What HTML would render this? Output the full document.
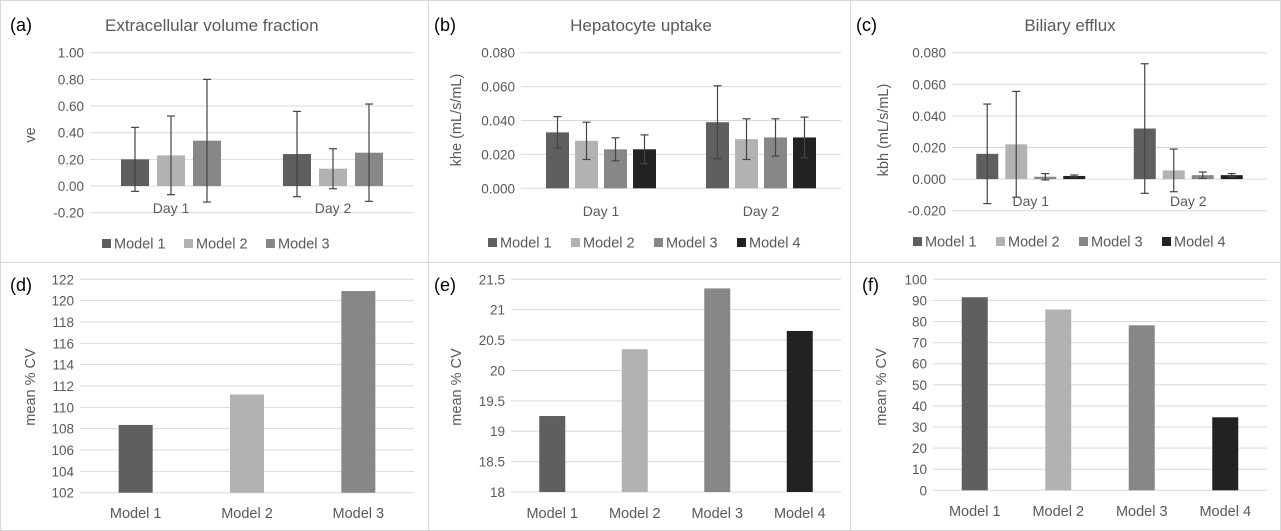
<!DOCTYPE html>
<html><head><meta charset="utf-8"><style>
html,body{margin:0;padding:0;background:#fff;}
svg{display:block;font-family:"Liberation Sans",sans-serif;}
</style></head><body>
<svg id="fig" width="1281" height="531" viewBox="0 0 1281 531" xmlns="http://www.w3.org/2000/svg"></svg>
<script>
const NS="http://www.w3.org/2000/svg";
const colors=["#5f5f5f","#b2b2b2","#878787","#222222"];
const modelNames=["Model 1","Model 2","Model 3","Model 4"];
const dayCats=["Day 1","Day 2"];
// (a)
const aTicks=[-0.2,0,0.2,0.4,0.6,0.8,1.0];
const aM1=[0.20,0.24],aM2=[0.23,0.13],aM3=[0.34,0.25];
const aE1=[0.24,0.32],aE2=[0.295,0.15],aE3=[0.46,0.365];
// (b)
const bTicks=[0,0.02,0.04,0.06,0.08];
const bM1=[0.033,0.039],bM2=[0.028,0.029],bM3=[0.023,0.030],bM4=[0.023,0.030];
const bE1=[0.0093,0.0215],bE2=[0.011,0.012],bE3=[0.0068,0.011],bE4=[0.0085,0.012];
// (c)
const cTicks=[-0.02,0,0.02,0.04,0.06,0.08];
const cM1=[0.016,0.032],cM2=[0.022,0.0055],cM3=[0.0015,0.0025],cM4=[0.002,0.0025];
const cE1=[0.0315,0.041],cE2=[0.0335,0.0135],cE3=[0.002,0.002],cE4=[0.0006,0.001];
// (d),(e),(f)
const dTicks=[102,104,106,108,110,112,114,116,118,120,122];
const dVals=[108.35,111.2,120.9];
const eTicks=[18,18.5,19,19.5,20,20.5,21,21.5];
const eVals=[19.25,20.35,21.35,20.65];
const fTicks=[0,10,20,30,40,50,60,70,80,90,100];
const fVals=[91.5,85.7,78.2,34.6];

const svg=document.getElementById('fig');
function mk(tag,attrs,parent,text){const e=document.createElementNS(NS,tag);for(const k in attrs)e.setAttribute(k,attrs[k]);if(text!==undefined)e.textContent=text;(parent||svg).appendChild(e);return e;}

function panel(id,x,y,w,h){
  const g=mk('g',{});
  
  
  const r=mk('rect',{x:x+0.5,y:y+0.5,width:w-1,height:h-1,fill:'#fff',stroke:'#d9d9d9'},g);
  
  
  return g;
}
function txt(g,x,y,s,opt,name){
  const t=mk('text',Object.assign({x:x,y:y,fill:'#595959','font-size':12},opt||{}),g,s);
  
  
  return t;
}
function axis(g,ticks,fmt,x0,x1,yTop,yBot){
  const lo=ticks[0],hi=ticks[ticks.length-1];
  const sy=v=>yBot-(v-lo)/(hi-lo)*(yBot-yTop);
  ticks.forEach(t=>{
    const l=mk('line',{x1:x0,x2:x1,y1:sy(t),y2:sy(t),stroke:'#d9d9d9','stroke-width':1},g);
    
    
    txt(g,x0-6,sy(t)+5,fmt(t),{'text-anchor':'end','font-size':13.5},'y-tick-label');
  });
  return sy;
}
function yTitle(g,x,y,s){
  txt(g,x,y,s,{'text-anchor':'middle','font-size':14.5,transform:`rotate(-90 ${x} ${y})`},'y-axis-title');
}
function grouped(g,series,errs,sy,x0,x1,bw,gap,catLabelY){
  const n=series.length,cw=(x1-x0)/dayCats.length;
  const total=n*bw+(n-1)*gap;
  dayCats.forEach((c,i)=>{
    const cx=x0+cw*(i+0.5);
    series.forEach((s,k)=>{
      const bx=cx-total/2+k*(bw+gap);
      const v=s[i],y0=sy(0),yv=sy(v);
      const b=mk('rect',{x:bx,y:Math.min(y0,yv),width:bw,height:Math.max(1,Math.abs(y0-yv)),fill:colors[k]},g);
      
      
      const e=errs[k][i],mx=bx+bw/2;
      const eg=mk('g',{stroke:'#444','stroke-width':1.2},g);
      
      
      mk('line',{x1:mx,x2:mx,y1:sy(v+e),y2:sy(v-e)},eg);
      mk('line',{x1:mx-4,x2:mx+4,y1:sy(v+e),y2:sy(v+e)},eg);
      mk('line',{x1:mx-4,x2:mx+4,y1:sy(v-e),y2:sy(v-e)},eg);
    });
    txt(g,cx,catLabelY,c,{'text-anchor':'middle','font-size':14},'x-category-label');
  });
}
function legend(g,n,x,y,step){
  for(let k=0;k<n;k++){
    const lg=mk('g',{},g);
    
    
    mk('rect',{x:x+k*step,y:y-9,width:9,height:9,fill:colors[k]},lg);
    txt(lg,x+k*step+12,y+0.5,modelNames[k],{'font-size':14.5},'legend-label');
  }
}
function simple(g,vals,sy,x0,x1,bw,labelY,y0){
  const cw=(x1-x0)/vals.length;
  vals.forEach((v,i)=>{
    const cx=x0+cw*(i+0.5);
    const b=mk('rect',{x:cx-bw/2,y:sy(v),width:bw,height:y0-sy(v),fill:colors[i]},g);
    
    
    txt(g,cx,labelY,modelNames[i],{'text-anchor':'middle','font-size':14.5},'x-category-label');
  });
}
// (a)
let g=panel('a',0,0,429,263);
txt(g,10,31,'(a)',{'font-size':18,fill:'#000'},'panel-letter');
txt(g,105,31,'Extracellular volume fraction',{'font-size':17},'chart-title');
let sy=axis(g,aTicks,v=>v.toFixed(2),90,414,52.7,212.7);
yTitle(g,35,135,'ve');
grouped(g,[aM1,aM2,aM3],[aE1,aE2,aE3],sy,90,414,28,8,213);
legend(g,3,102,248,82);
// (b)
g=panel('b',428,0,423,263);
txt(g,434,31,'(b)',{'font-size':18,fill:'#000'},'panel-letter');
txt(g,641,31,'Hepatocyte uptake',{'font-size':17,'text-anchor':'middle'},'chart-title');
sy=axis(g,bTicks,v=>v.toFixed(3),521,841,52.7,188.3);
yTitle(g,461,120,'khe (mL/s/mL)');
grouped(g,[bM1,bM2,bM3,bM4],[bE1,bE2,bE3,bE4],sy,521,841,23,6,216);
legend(g,4,488,247,83);
// (c)
g=panel('c',850,0,431,263);
txt(g,856,31,'(c)',{'font-size':18,fill:'#000'},'panel-letter');
txt(g,1070,31,'Biliary efflux',{'font-size':17,'text-anchor':'middle'},'chart-title');
sy=axis(g,cTicks,v=>v.toFixed(3),952,1267,52.7,210.7);
yTitle(g,888,130,'kbh (mL/s/mL)');
grouped(g,[cM1,cM2,cM3,cM4],[cE1,cE2,cE3,cE4],sy,952,1267,22,7,206);
legend(g,4,913,246,83);
// (d)
g=panel('d',0,262,429,269);
txt(g,10,291,'(d)',{'font-size':18,fill:'#000'},'panel-letter');
sy=axis(g,dTicks,v=>String(v),80,414,279.3,492.7);
yTitle(g,35,387,'mean % CV');
simple(g,dVals,sy,80,414,34,518,492.7);
// (e)
g=panel('e',428,262,423,269);
txt(g,434,291,'(e)',{'font-size':18,fill:'#000'},'panel-letter');
sy=axis(g,eTicks,v=>String(v),511,841,279.3,492);
yTitle(g,461,387,'mean % CV');
simple(g,eVals,sy,511,841,26,518,492);
// (f)
g=panel('f',850,262,431,269);
txt(g,862,291,'(f)',{'font-size':18,fill:'#000'},'panel-letter');
sy=axis(g,fTicks,v=>String(v),933,1267,279.3,490.3);
yTitle(g,886,387,'mean % CV');
simple(g,fVals,sy,933,1267,26,516,490.3);
</script>
</body></html>
